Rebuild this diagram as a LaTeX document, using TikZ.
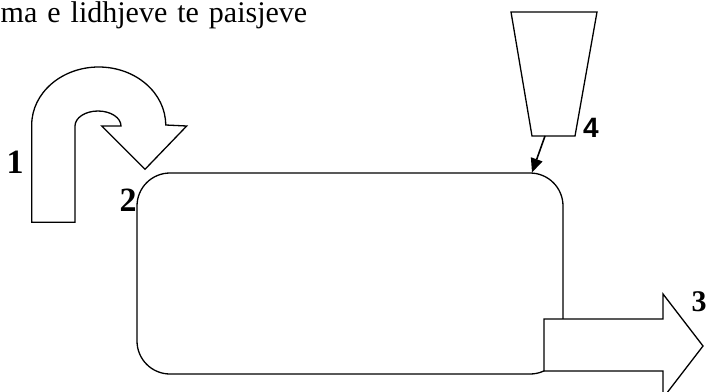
\documentclass[tikz,border=0pt]{standalone}
\usepackage{fontspec}
\setmainfont{Liberation Serif}
\newfontfamily\arialf{Liberation Sans}
\usetikzlibrary{arrows.meta}
\begin{document}
\begin{tikzpicture}[x=1pt,y=-1pt]
\tikzset{
  outl/.style={draw=black, fill=white, line width=1.3pt, line join=miter},
  numlbl/.style={font=\fontsize{34}{34}\selectfont\bfseries, inner sep=0pt},
  conn/.style={draw=black, line width=1.6pt, -{Triangle[length=14pt,width=12pt]}}
}
\useasboundingbox (0,0) rectangle (708,391);
% title
\node[anchor=base west, inner sep=0pt, font=\fontsize{30}{30}\selectfont] (title) at (0.5,22)
  {ma\hspace{10pt}e\hspace{10pt}lidhjeve\hspace{10pt}te\hspace{10pt}paisjeve};
% tank
\node[outl, rounded corners=33pt, minimum width=426pt, minimum height=201pt, inner sep=0pt] (tank) at (350,273.5) {};
% outlet arrow 3
\draw[outl] (544,319) -- (663,319) -- (663,294) -- (703,346) -- (663,398) -- (663,371) -- (544,371) -- cycle;
% U-turn arrow 1
\draw[outl] (31.7,222.3) -- (31.7,125)
  arc[start angle=180, end angle=360, x radius=67, y radius=58]
  -- (186.7,126) -- (145,169.3) -- (101.7,126) -- (121,126)
  arc[start angle=0, end angle=-180, x radius=23, y radius=15]
  -- (75,222.3) -- cycle;
% hopper 4
\draw[outl] (511,12) -- (597,12) -- (575,136) -- (532,136) -- cycle;
\coordinate (hopout) at (545,136);
\coordinate (tankin) at (532,172.5);
\draw[conn] (hopout) -- (tankin);
% labels
\node[numlbl] (l1) at (15,162) {1};
\node[numlbl] (l2) at (128,200) {2};
\node[numlbl, font=\fontsize{30}{30}\selectfont\bfseries] (l3) at (699,302) {3};
\node[inner sep=0pt, font=\fontsize{28}{28}\arialf\bfseries] (l4) at (591,128) {4};
\end{tikzpicture}
\end{document}
